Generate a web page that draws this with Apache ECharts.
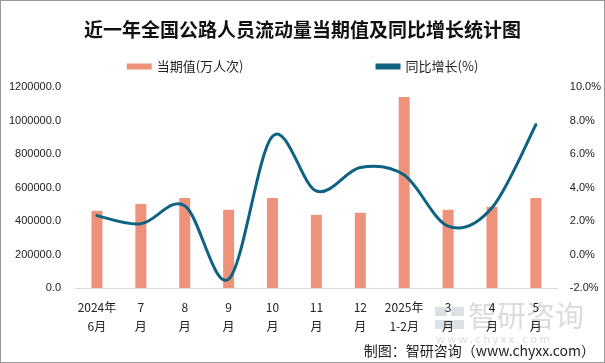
<!DOCTYPE html>
<html><head><meta charset="utf-8">
<script src="https://cdn.jsdelivr.net/npm/echarts@6/dist/echarts.min.js"></script>
<style>html,body{margin:0;padding:0;background:#fff}#c{width:603px;height:361px;border:1px solid #999}</style>
</head><body><div id="c"></div>
<script>
const categories = ['2024年\n6月','7\n月','8\n月','9\n月','10\n月','11\n月','12\n月','2025年\n1-2月','3\n月','4\n月','5\n月'];
const volume = [461000,502000,538000,467000,538000,437000,449000,1141000,467000,485000,538000];
const growth = [2.32,1.83,2.91,-1.47,7.06,3.79,5.19,4.74,1.69,2.79,7.75];
const leftTicks = [0,1200000,200000];
const rightTicks = [-2,10,2];
const chart = echarts.init(document.getElementById('c'));
const font = 'Microsoft YaHei, "Noto Sans CJK SC", sans-serif';
const lineColor = '#0E6282';
function renderCurve(params, api){
  if (params.dataIndex !== 0) return null;
  const pts = growth.map((v,i)=>api.coord([i, v]));
  let d = 'M' + pts[0][0] + ',' + pts[0][1];
  for (let i=0;i<pts.length-1;i++){
    const p0 = pts[Math.max(0,i-1)], p1 = pts[i], p2 = pts[i+1], p3 = pts[Math.min(pts.length-1,i+2)];
    const c1 = [p1[0]+(p2[0]-p0[0])/6, p1[1]+(p2[1]-p0[1])/6];
    const c2 = [p2[0]-(p3[0]-p1[0])/6, p2[1]-(p3[1]-p1[1])/6];
    d += ' C' + c1[0]+','+c1[1]+' '+c2[0]+','+c2[1]+' '+p2[0]+','+p2[1];
  }
  return {type:'path',shape:{pathData:d},style:{fill:null,stroke:lineColor,lineWidth:3,lineCap:'round'}};
}
chart.setOption({
  animation:false,
  title:{text:'近一年全国公路人员流动量当期值及同比增长统计图',left:'center',top:14,
    textStyle:{fontSize:19,fontWeight:'bold',color:'#111',fontFamily:font}},
  legend:{top:54,itemGap:132,itemWidth:25,itemHeight:6,
    textStyle:{fontSize:13,color:'#222',fontFamily:font},
    data:[{name:'当期值(万人次)',icon:'rect',itemStyle:{color:'#EE937A'}},{name:'同比增长(%)',icon:'rect',itemStyle:{color:lineColor}}]},
  grid:{left:74,right:46,top:86,bottom:74},
  xAxis:{type:'category',data:categories,
    axisLine:{lineStyle:{color:'#d9d9d9'}},axisTick:{show:false},
    axisLabel:{interval:0,fontSize:12,color:'#222',lineHeight:19,margin:10,fontFamily:font}},
  yAxis:[
    {type:'value',min:leftTicks[0],max:leftTicks[1],interval:leftTicks[2],
     splitLine:{show:false},axisLine:{show:false},axisTick:{show:false},
     axisLabel:{fontSize:11,color:'#222',margin:14,formatter:v=>v.toFixed(1)}},
    {type:'value',min:rightTicks[0],max:rightTicks[1],interval:rightTicks[2],
     splitLine:{show:false},axisLine:{show:false},axisTick:{show:false},
     axisLabel:{fontSize:11,color:'#222',margin:12,formatter:v=>v.toFixed(1)+'%'}}
  ],
  graphic:[
    {type:'rect',left:434,top:306,z:-1,shape:{width:12,height:9},style:{fill:'rgba(185,195,205,0.5)'}},
    {type:'rect',left:450,top:306,z:-1,shape:{width:13,height:9},style:{fill:'rgba(185,195,205,0.5)'}},
    {type:'rect',left:434,top:319,z:-1,shape:{width:29,height:9},style:{fill:'rgba(185,195,205,0.5)'}},
    {type:'text',left:467,top:300,z:-1,style:{text:'智研咨询',fontSize:29,fill:'rgba(185,190,195,0.55)',fontFamily:font}},
    {type:'text',left:435,top:332,z:-1,style:{text:'w w w . c h y x x . c o m',fontSize:11,fill:'rgba(185,190,195,0.55)',fontFamily:font}},
    {type:'text',right:9,top:343,style:{text:'制图：智研咨询（www.chyxx.com）',fontSize:14,fill:'#222',fontFamily:font}}
  ],
  series:[
    {name:'当期值(万人次)',type:'bar',data:volume,barWidth:11,itemStyle:{color:'#EE937A'}},
    {name:'同比增长(%)',type:'custom',yAxisIndex:1,data:growth.map((v,i)=>[i,v]),renderItem:renderCurve,
     itemStyle:{color:lineColor},encode:{x:0,y:1},z:3}
  ]
});
</script></body></html>
